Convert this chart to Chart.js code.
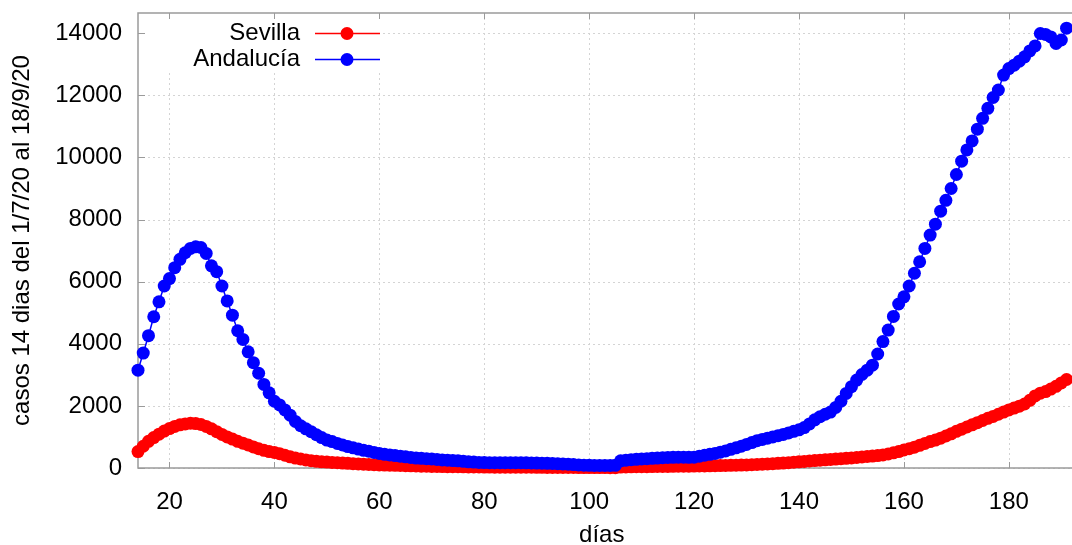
<!DOCTYPE html>
<html><head><meta charset="utf-8">
<script src="https://cdn.jsdelivr.net/npm/chart.js@4/dist/chart.umd.min.js"></script>
<style>html,body{margin:0;padding:0;background:#fff;}canvas{display:block;}</style>
</head><body>
<canvas id="c" width="1072" height="545"></canvas>
<script>
const days = [14,15,16,17,18,19,20,21,22,23,24,25,26,27,28,29,30,31,32,33,34,35,36,37,38,39,40,41,42,43,44,45,46,47,48,49,50,51,52,53,54,55,56,57,58,59,60,61,62,63,64,65,66,67,68,69,70,71,72,73,74,75,76,77,78,79,80,81,82,83,84,85,86,87,88,89,90,91,92,93,94,95,96,97,98,99,100,101,102,103,104,105,106,107,108,109,110,111,112,113,114,115,116,117,118,119,120,121,122,123,124,125,126,127,128,129,130,131,132,133,134,135,136,137,138,139,140,141,142,143,144,145,146,147,148,149,150,151,152,153,154,155,156,157,158,159,160,161,162,163,164,165,166,167,168,169,170,171,172,173,174,175,176,177,178,179,180,181,182,183,184,185,186,187,188,189,190,191];
const sevilla = [530,700,860,980,1090,1190,1270,1340,1390,1420,1440,1430,1400,1340,1260,1170,1080,1000,930,860,800,740,680,620,570,530,500,460,410,360,320,290,260,235,215,200,190,180,170,160,150,140,130,120,112,105,100,95,90,85,80,75,70,65,60,56,52,48,46,44,42,40,38,36,34,32,30,30,28,28,26,26,25,25,24,24,22,22,20,20,18,18,16,16,15,15,14,14,13,13,12,12,30,35,38,40,42,44,46,48,50,52,54,56,58,60,62,64,66,70,74,78,82,86,90,95,100,106,112,120,130,140,150,160,172,185,200,212,225,238,250,262,275,288,300,312,325,340,355,370,385,400,420,450,490,530,580,620,670,730,790,850,900,960,1030,1100,1180,1250,1320,1390,1460,1530,1600,1660,1730,1800,1870,1930,1990,2060,2180,2320,2410,2460,2540,2630,2740,2850];
const andalucia = [3150,3700,4260,4870,5350,5860,6100,6450,6720,6930,7070,7120,7100,6910,6510,6320,5860,5380,4920,4420,4140,3740,3390,3050,2690,2420,2150,2030,1870,1700,1500,1360,1260,1170,1070,980,900,850,790,740,690,650,610,570,540,500,470,440,420,400,380,360,340,320,310,300,290,275,260,250,240,230,215,200,190,180,175,170,170,170,170,170,170,170,168,165,160,155,150,145,140,130,120,110,100,92,85,80,80,80,80,85,230,250,265,280,290,300,310,320,330,340,345,350,350,345,350,380,410,440,470,510,550,600,650,700,760,820,880,920,960,1000,1040,1080,1130,1180,1230,1300,1420,1550,1650,1730,1800,1950,2150,2400,2620,2830,3010,3150,3310,3670,4070,4440,4880,5280,5510,5860,6270,6640,7070,7500,7850,8270,8620,9000,9450,9880,10240,10530,10910,11260,11580,11930,12170,12650,12860,12970,13100,13240,13430,13590,13990,13960,13880,13670,13780,14160];
const xTickValues = [20,40,60,80,100,120,140,160,180];
const yTickValues = [0,2000,4000,6000,8000,10000,12000,14000];
const seriesNames = ['Sevilla','Andalucía'];
const seriesColors = ['#ff0000','#0000ff'];
const xTitle = 'días';
const yTitle = 'casos 14 dias del 1/7/20 al 18/9/20';

const FONT = "'Liberation Sans', Arial, sans-serif";
Chart.defaults.font.family = FONT;
Chart.defaults.font.size = 24;
Chart.defaults.color = '#000';

function pts(vals){ return days.map((d,i)=>({x:d,y:vals[i]})); }

const framePlugin = {
  id:'frame',
  beforeDatasetsDraw(chart){
    const {ctx, chartArea:a, scales:{x,y}} = chart;
    ctx.save();
    ctx.strokeStyle = '#d4d4d4';
    ctx.lineWidth = 1;
    ctx.setLineDash([2,3]);
    xTickValues.forEach(v=>{const px=Math.round(x.getPixelForValue(v))+0.5;ctx.beginPath();ctx.moveTo(px,a.top);ctx.lineTo(px,a.bottom);ctx.stroke();});
    yTickValues.forEach(v=>{const py=Math.round(y.getPixelForValue(v))+0.5;ctx.beginPath();ctx.moveTo(a.left,py);ctx.lineTo(1072,py);ctx.stroke();});
    ctx.setLineDash([]);
    ctx.fillStyle='#fff';
    ctx.fillRect(145,14,238,56);
    ctx.strokeStyle='#9a9a9a';
    ctx.lineWidth=1.5;
    ctx.strokeRect(a.left,a.top,1080-a.left,a.bottom-a.top);
    ctx.lineWidth=1;
    xTickValues.forEach(v=>{const px=Math.round(x.getPixelForValue(v))+0.5;ctx.beginPath();ctx.moveTo(px,a.bottom);ctx.lineTo(px,a.bottom-6);ctx.moveTo(px,a.top);ctx.lineTo(px,a.top+6);ctx.stroke();});
    yTickValues.forEach(v=>{const py=Math.round(y.getPixelForValue(v))+0.5;ctx.beginPath();ctx.moveTo(a.left,py);ctx.lineTo(a.left+7,py);ctx.stroke();});
    ctx.font = '24px ' + FONT;
    ctx.textAlign='right';
    ctx.textBaseline='middle';
    const rows=[33,59];
    seriesNames.forEach((n,i)=>{
      ctx.fillStyle='#000';
      ctx.fillText(n,300,rows[i]);
      ctx.strokeStyle=seriesColors[i];
      ctx.lineWidth=1.5;
      ctx.beginPath();ctx.moveTo(315,rows[i]+0.5);ctx.lineTo(380,rows[i]+0.5);ctx.stroke();
      ctx.fillStyle=seriesColors[i];
      ctx.beginPath();ctx.arc(347,rows[i]+0.5,6.5,0,Math.PI*2);ctx.fill();
    });
    ctx.restore();
  }
};

new Chart(document.getElementById('c'),{
  type:'line',
  data:{datasets:[
    {label:seriesNames[0],data:pts(sevilla),borderColor:seriesColors[0],backgroundColor:seriesColors[0],pointBackgroundColor:seriesColors[0],pointBorderWidth:0,pointRadius:6.5,borderWidth:1.5,clip:false,order:2},
    {label:seriesNames[1],data:pts(andalucia),borderColor:seriesColors[1],backgroundColor:seriesColors[1],pointBackgroundColor:seriesColors[1],pointBorderWidth:0,pointRadius:6.5,borderWidth:1.5,clip:false,order:1}
  ]},
  options:{
    responsive:false,animation:false,devicePixelRatio:1,
    layout:{padding:{top:13,left:0,right:0,bottom:0}},
    plugins:{legend:{display:false},tooltip:{enabled:false}},
    scales:{
      x:{type:'linear',min:14,max:190.8,
        afterBuildTicks(s){s.ticks=xTickValues.map(v=>({value:v}));},
        afterFit(s){s.height=77;s.paddingLeft=0;s.paddingRight=0;},
        grid:{display:false},border:{display:false},
        ticks:{padding:12,maxRotation:0,autoSkip:false,font:{size:24},callback:v=>String(v)},
        title:{display:true,text:xTitle,font:{size:24,lineHeight:0.8},padding:{top:0,bottom:0}}
      },
      y:{type:'linear',min:0,max:14650,
        afterBuildTicks(s){s.ticks=yTickValues.map(v=>({value:v}));},
        afterFit(s){s.width=138;s.paddingTop=0;s.paddingBottom=0;},
        grid:{display:false},border:{display:false},
        ticks:{padding:8,font:{size:24},callback:v=>String(v)},
        title:{display:true,text:yTitle,font:{size:24,lineHeight:1.2},padding:{top:8,bottom:0}}
      }
    }
  },
  plugins:[framePlugin]
});
</script>
</body></html>
